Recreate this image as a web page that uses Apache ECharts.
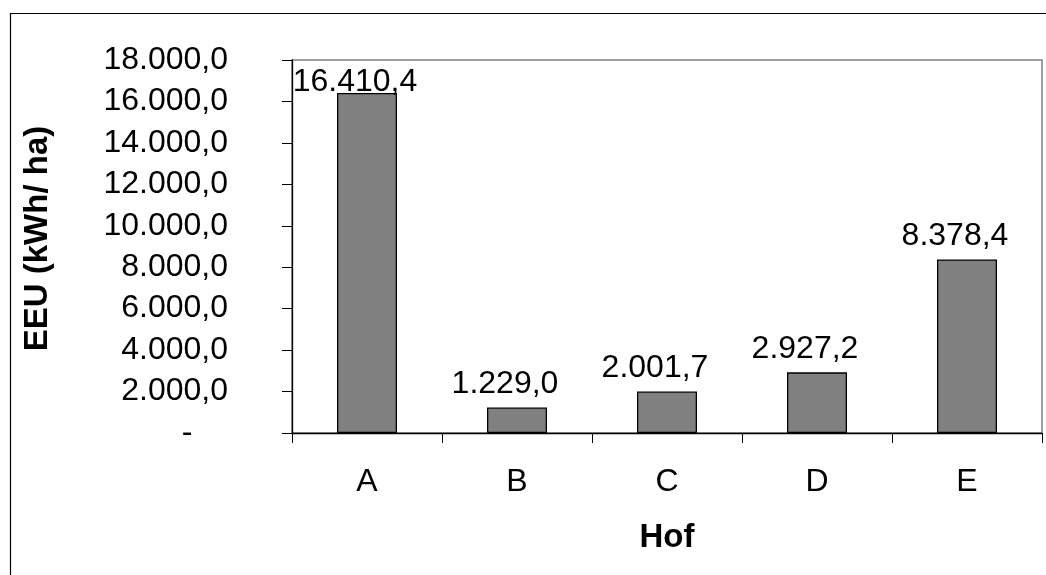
<!DOCTYPE html>
<html>
<head>
<meta charset="utf-8">
<script src="https://cdn.jsdelivr.net/npm/echarts@6/dist/echarts.min.js"></script>
<style>html,body{margin:0;padding:0;background:#fff}#c{width:1046px;height:575px}</style>
</head>
<body>
<div id="c"></div>
<script>
const categories = ['A', 'B', 'C', 'D', 'E'];
const values = [16410.4, 1229.0, 2001.7, 2927.2, 8378.4];
const yTicks = [0, 2000, 4000, 6000, 8000, 10000, 12000, 14000, 16000, 18000];
const xTitle = 'Hof';
const yTitle = 'EEU (kWh/ ha)';

function fmtDE(v) {
  const s = Math.abs(v).toFixed(1);
  const parts = s.split('.');
  const intPart = parts[0].replace(/\B(?=(\d{3})+(?!\d))/g, '.');
  return (v < 0 ? '-' : '') + intPart + ',' + parts[1];
}

const FONT = "'Liberation Sans', Arial, sans-serif";
const chart = echarts.init(document.getElementById('c'), null, { renderer: 'canvas' });

const data = values.map((v, i) => {
  const item = { value: v };
  if (i === 0) item.label = { offset: [-12, 12] };
  return item;
});

chart.setOption({
  animation: false,
  backgroundColor: '#fff',
  graphic: [{
    type: 'rect',
    shape: { x: 10.5, y: 13.5, width: 1200, height: 800 },
    style: { fill: 'none', stroke: '#000', lineWidth: 1.2 },
    silent: true
  }],
  grid: {
    left: 292, right: 4, top: 60, bottom: 142,
    show: true, borderColor: '#808080', borderWidth: 1.5, backgroundColor: 'transparent'
  },
  xAxis: {
    type: 'category',
    data: categories,
    name: xTitle,
    nameLocation: 'middle',
    nameGap: 88,
    nameTextStyle: { fontFamily: FONT, fontSize: 33, fontWeight: 'bold', color: '#000' },
    axisLine: { lineStyle: { color: '#000', width: 1.3 } },
    axisTick: { show: true, length: 10, lineStyle: { color: '#000' } },
    axisLabel: { fontFamily: FONT, fontSize: 32, color: '#000', margin: 33 }
  },
  yAxis: {
    type: 'value',
    min: 0, max: yTicks[yTicks.length - 1], interval: yTicks[1] - yTicks[0],
    name: yTitle,
    nameLocation: 'middle',
    nameRotate: 90,
    nameGap: 238,
    nameTextStyle: { fontFamily: FONT, fontSize: 33, fontWeight: 'bold', color: '#000', padding: [0, 0, 0, 16] },
    splitLine: { show: false },
    axisLine: { show: true, lineStyle: { color: '#000', width: 1.3 } },
    axisTick: { show: true, length: 10, lineStyle: { color: '#000' } },
    axisLabel: {
      fontFamily: FONT, fontSize: 32, color: '#000', margin: 64,
      formatter: v => v === 0 ? '-    ' : fmtDE(v)
    }
  },
  series: [{
    type: 'bar',
    data: data,
    barWidth: '40%',
    itemStyle: { color: '#808080', borderColor: '#000', borderWidth: 1.3 },
    label: {
      show: true, position: 'top', distance: 7, offset: [-12, 0],
      fontFamily: FONT, fontSize: 32, color: '#000',
      formatter: p => fmtDE(p.value)
    }
  }]
});
</script>
</body>
</html>
